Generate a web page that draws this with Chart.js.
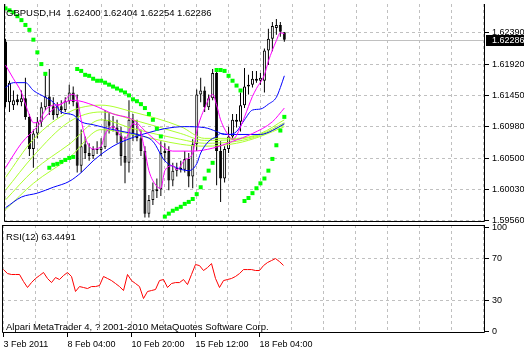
<!DOCTYPE html>
<html>
<head>
<meta charset="utf-8">
<script src="https://cdn.jsdelivr.net/npm/chart.js@4.4.0/dist/chart.umd.min.js"></script>
<style>
  html, body { margin: 0; padding: 0; background: #fff; }
  #wrap { position: relative; width: 524px; height: 351px; overflow: hidden; }
  #priceChart { position: absolute; left: 0; top: 0; }
  #rsiChart { position: absolute; left: 0; top: 223px; }
</style>
</head>
<body>
<div id="wrap">
  <canvas id="priceChart" width="524" height="226"></canvas>
  <canvas id="rsiChart" width="524" height="128"></canvas>
</div>
<script>
// GBPUSD H4 candles, bar index 0..70
const symbol = 'GBPUSD,H4';
const openP = [1.62258,1.61344,1.61300,1.61388,1.61344,1.61403,1.61123,1.60637,1.60872,1.61049,
  1.61270,1.61432,1.61285,1.61152,1.61285,1.61226,1.61359,1.61491,1.61344,1.60386,
  1.60710,1.60578,1.60533,1.60637,1.60622,1.60666,1.61079,1.60990,1.60961,1.60843,
  1.60533,1.60430,1.61079,1.60872,1.60799,1.60607,1.59664,1.59870,1.60003,1.60032,
  1.60578,1.60607,1.60165,1.60312,1.60356,1.60327,1.60489,1.60224,1.60710,1.61462,
  1.61521,1.61270,1.61403,1.61786,1.60607,1.60194,1.60637,1.60828,1.61079,1.61049,
  1.61300,1.61580,1.61609,1.61698,1.61668,1.61668,1.62125,1.62302,1.62464,1.62509,1.62400];
const highP = [1.62302,1.61668,1.61521,1.61462,1.61521,1.61713,1.61167,1.60931,1.61123,1.61344,
  1.61757,1.61845,1.61418,1.61344,1.61374,1.61418,1.61609,1.61580,1.61462,1.60931,
  1.60828,1.60725,1.60681,1.60754,1.60799,1.61226,1.61197,1.61138,1.61079,1.60976,
  1.60828,1.61374,1.61167,1.61079,1.60931,1.60681,1.59944,1.60135,1.60194,1.60754,
  1.60725,1.60681,1.60430,1.60430,1.60460,1.60607,1.60578,1.60784,1.61536,1.61713,
  1.61580,1.61462,1.61845,1.61845,1.60754,1.60681,1.60976,1.61167,1.61167,1.61491,
  1.61860,1.61757,1.61816,1.61816,1.61786,1.62155,1.62450,1.62553,1.62597,1.62553,1.62404];
const lowP = [1.61270,1.61197,1.61226,1.61300,1.61285,1.61079,1.60533,1.60356,1.60799,1.60976,
  1.61226,1.61152,1.61079,1.61108,1.61167,1.61197,1.61315,1.61285,1.60283,1.60283,
  1.60489,1.60460,1.60489,1.60563,1.60533,1.60637,1.60872,1.60902,1.60725,1.60386,
  1.60121,1.60283,1.60754,1.60754,1.60533,1.59605,1.59605,1.59796,1.59900,1.59929,
  1.60460,1.60017,1.60076,1.60224,1.60283,1.60283,1.60062,1.60047,1.60607,1.61344,
  1.61197,1.61226,1.61374,1.60091,1.59841,1.60135,1.60578,1.60784,1.60961,1.60902,
  1.61256,1.61462,1.61565,1.61639,1.61609,1.61491,1.61904,1.62111,1.62361,1.62332,1.62254];
const closeP = [1.61344,1.61639,1.61374,1.61344,1.61403,1.61123,1.60637,1.60872,1.61049,1.61270,
  1.61432,1.61285,1.61152,1.61285,1.61226,1.61359,1.61491,1.61344,1.60386,1.60681,
  1.60578,1.60533,1.60637,1.60622,1.60666,1.61079,1.60990,1.60961,1.60843,1.60533,
  1.60430,1.61079,1.60843,1.60799,1.60607,1.59664,1.59870,1.60017,1.60032,1.60578,
  1.60607,1.60165,1.60312,1.60356,1.60327,1.60489,1.60224,1.60710,1.61462,1.61521,
  1.61270,1.61403,1.61786,1.60607,1.60194,1.60637,1.60828,1.61079,1.61049,1.61300,
  1.61580,1.61609,1.61698,1.61668,1.61713,1.62125,1.62302,1.62494,1.62509,1.62405,1.62286];

// Parabolic SAR, one value per bar
const sar = [1.62759,1.62730,1.62700,1.62641,1.62582,1.62509,1.62435,1.62287,1.62096,1.61919,
  1.61772,1.60356,1.60401,1.60415,1.60445,1.60474,1.60504,1.60519,1.61845,1.61816,
  1.61757,1.61742,1.61698,1.61668,1.61668,1.61639,1.61609,1.61580,1.61550,1.61521,
  1.61491,1.61447,1.61388,1.61359,1.61315,1.61256,1.61167,1.61079,1.60946,1.60828,
  1.59619,1.59664,1.59708,1.59737,1.59767,1.59811,1.59841,1.59885,1.59958,1.60062,
  1.60194,1.60312,1.60430,1.61830,1.61830,1.61816,1.61742,1.61668,1.61595,1.61521,
  1.59855,1.59900,1.59973,1.60047,1.60121,1.60194,1.60312,1.60489,1.60695,1.60917,1.61123];

// RSI(12), one value per bar
const rsi = [59.5,55.7,54.8,54.8,54.8,48.1,42.4,47.1,51.0,53.8,
  56.7,51.0,47.1,51.9,50.0,53.8,56.7,52.9,38.6,43.3,
  42.4,41.4,43.3,43.3,44.3,52.9,51.0,49.0,46.2,43.3,
  39.5,54.8,49.0,46.2,43.3,31.9,38.6,39.5,40.5,49.0,
  50.0,42.4,46.2,47.1,47.1,50.0,45.2,54.8,64.3,63.3,
  58.6,61.4,65.2,51.0,42.4,49.0,50.0,51.0,52.9,55.7,
  59.5,59.5,59.5,58.6,58.6,63.3,66.2,68.1,70.0,67.1,63.4491];

// moving averages, read at the listed bars
const magFastBars = [0,2,4,5,6,7,8,10,12,14,16,17,18,19,20,22,24,25,27,29,30,32,34,35,36,38,39,40,42,43,45,47,48,50,52,53,54,56,57,58,60,62,63,65,66,68,69,70];
const magFast = [1.61904,1.61698,1.61491,1.61315,1.61152,1.61035,1.61035,1.61226,1.61300,1.61315,
  1.61447,1.61462,1.61388,1.61079,1.60813,1.60637,1.60681,1.60858,1.60976,1.60828,
  1.60784,1.61020,1.60872,1.60607,1.60312,1.60076,1.60047,1.60312,1.60386,1.60327,
  1.60474,1.60578,1.60902,1.61256,1.61462,1.61300,1.61079,1.60843,1.60784,1.60843,
  1.61123,1.61432,1.61550,1.61757,1.61963,1.62273,1.62391,1.62376];
const magSlowBars = [0,4,8,10,13,17,22,27,32,36,42,47,52,57,62,67,70];
const magSlow = [1.60356,1.60725,1.60976,1.61123,1.61285,1.61374,1.61300,1.61167,1.61079,1.60857,1.60607,1.60607,1.60651,1.60754,1.60872,1.61049,1.61256];
const blueFastBars = [0,2,5,7,10,12,14,17,19,22,27,32,34,37,40,43,46,48,49,51,53,54,56,58,60,62,64,66,68,69,70];
const blueFast = [1.61565,1.61639,1.61639,1.61521,1.61418,1.61344,1.61197,1.61152,1.61049,1.61005,
  1.60931,1.60872,1.60843,1.60754,1.60460,1.60356,1.60312,1.60415,1.60578,1.60754,
  1.60828,1.60872,1.60857,1.60902,1.61079,1.61226,1.61241,1.61315,1.61418,1.61565,1.61742];
const blueSlowBars = [0,4,8,12,16,19,22,27,32,36,40,45,50,53,55,64,67,70];
const blueSlow = [1.59752,1.59914,1.59973,1.60062,1.60150,1.60283,1.60460,1.60681,1.60813,1.60887,1.60946,1.60976,1.60961,1.60902,1.60858,1.60858,1.60917,1.61020];
const fanBars = [0,7,16,24,32,44,50,58,64,70];
const fan1 = [1.60209,1.60784,1.61197,1.61300,1.61197,1.60976,1.60799,1.60799,1.60872,1.61079];
const fan2 = [1.60017,1.60533,1.61049,1.61197,1.61079,1.60872,1.60769,1.60784,1.60858,1.61035];
const fan3 = [1.59870,1.60312,1.60710,1.61079,1.60946,1.60784,1.60725,1.60754,1.60843,1.61005];
const fan4 = [1.59722,1.60121,1.60504,1.60931,1.60858,1.60710,1.60681,1.60725,1.60828,1.60976];

// axes
const priceTicks = [1.5956, 1.6003, 1.6050, 1.6098, 1.6145, 1.6192, 1.6239];
const priceMin = 1.59538, priceMax = 1.62825;
const rsiTicks = [0, 30, 70, 100];
const rsiLevels = [30, 70];
const timeTickBars = [0, 16, 32, 48, 64];
const timeTickLabels = ['3 Feb 2011', '8 Feb 04:00', '10 Feb 20:00', '15 Feb 12:00', '18 Feb 04:00'];
const gridStep = 8, lastSlot = 120;
const xMin = -0.375, xMax = 120.375;

const gridBars = [];
for (let b = 0; b <= lastSlot; b += gridStep) gridBars.push(b);

const FONT = "'Liberation Sans', Arial, sans-serif";
Chart.defaults.font.family = FONT;
Chart.defaults.font.size = 9;
Chart.defaults.color = '#000';
const gridColor = '#c0c0c0';
const n = closeP.length - 1;

const pts = (xs, ys) => xs.map((x, i) => ({ x: x, y: ys[i] }));
const line = (data, color, order) => ({
  type: 'line', data: data, borderColor: color, borderWidth: 1, pointRadius: 0,
  cubicInterpolationMode: 'monotone', order: order
});

const frame = {
  id: 'frame',
  afterDraw(chart, args, opts) {
    const { ctx, chartArea: a } = chart;
    ctx.save();
    ctx.strokeStyle = '#000';
    ctx.lineWidth = 1;
    ctx.beginPath();
    if (opts.top) { ctx.moveTo(a.left, a.top + 0.5); ctx.lineTo(a.right, a.top + 0.5); }
    ctx.moveTo(a.left + 0.5, a.top);
    ctx.lineTo(a.left + 0.5, a.bottom - 0.5);
    ctx.lineTo(a.right - 0.5, a.bottom - 0.5);
    ctx.lineTo(a.right - 0.5, a.top);
    ctx.stroke();
    ctx.restore();
  }
};

const timeAxis = (labels) => ({
  type: 'linear', min: xMin, max: xMax, offset: false,
  afterBuildTicks: s => { s.ticks = gridBars.map(v => ({ value: v })); },
  afterFit: s => { s.height = labels ? 18 : 3; s.paddingLeft = 0; s.paddingRight = 0; },
  grid: {
    offset: false, color: gridColor, drawTicks: labels, tickLength: 4,
    tickColor: c => (c.tick && timeTickBars.includes(c.tick.value)) ? '#000' : 'rgba(0,0,0,0)'
  },
  border: { display: false, dash: [3, 3] },
  ticks: {
    display: labels, autoSkip: false, maxRotation: 0, minRotation: 0, align: 'start', padding: 2,
    callback: v => { const k = timeTickBars.indexOf(v); return k < 0 ? '' : timeTickLabels[k]; }
  }
});

// price panel
const priceOverlay = {
  id: 'priceOverlay',
  beforeDatasetsDraw(chart) {
    const { ctx, chartArea: a } = chart;
    const y = Math.round(chart.scales.y.getPixelForValue(closeP[n])) + 0.5;
    ctx.save();
    ctx.strokeStyle = gridColor;
    ctx.beginPath(); ctx.moveTo(a.left, y); ctx.lineTo(a.right, y); ctx.stroke();
    ctx.restore();
  },
  afterDraw(chart) {
    const { ctx, chartArea: a } = chart;
    const y = Math.round(chart.scales.y.getPixelForValue(closeP[n]));
    ctx.save();
    ctx.fillStyle = '#000';
    ctx.fillRect(a.right + 1, y - 5, 40, 11);
    ctx.font = '9px ' + FONT;
    ctx.fillStyle = '#fff';
    ctx.textBaseline = 'middle';
    ctx.fillText(closeP[n].toFixed(5), a.right + 7, y + 0.5);
    ctx.fillStyle = '#000';
    ctx.textBaseline = 'alphabetic';
    ctx.font = '9.5px ' + FONT;
    ctx.fillText(symbol + '  ' + openP[n].toFixed(5) + ' ' + highP[n].toFixed(5) + ' ' +
      lowP[n].toFixed(5) + ' ' + closeP[n].toFixed(5), 6, 16);
    ctx.restore();
  }
};

const bars = closeP.map((c, i) => i);
new Chart(document.getElementById('priceChart'), {
  type: 'line',
  data: {
    datasets: [
      { type: 'line', data: pts(bars, sar), showLine: false, pointStyle: 'rect', pointRadius: 2.83,
        pointBackgroundColor: '#00ff00', pointBorderWidth: 0, order: 0 },
      line(pts(magFastBars, magFast), '#ff00ff', 1),
      line(pts(blueFastBars, blueFast), '#0000ff', 1),
      line(pts(magSlowBars, magSlow), '#ff00ff', 1),
      line(pts(blueSlowBars, blueSlow), '#0000ff', 1),
      line(pts(fanBars, fan1), '#adff2f', 2),
      line(pts(fanBars, fan2), '#adff2f', 2),
      line(pts(fanBars, fan3), '#adff2f', 2),
      line(pts(fanBars, fan4), '#adff2f', 2),
      { type: 'bar', data: bars.map(i => ({ x: i, y: [Math.min(openP[i], closeP[i]), Math.max(openP[i], closeP[i])] })),
        barThickness: 3, grouped: false, borderWidth: 1, borderColor: '#000', borderSkipped: false,
        inflateAmount: 0, backgroundColor: c => closeP[c.dataIndex] >= openP[c.dataIndex] ? '#fff' : '#000', order: 3 },
      { type: 'bar', data: bars.map(i => ({ x: i, y: [lowP[i], highP[i]] })),
        barThickness: 1, grouped: false, borderWidth: 0, inflateAmount: 0, backgroundColor: '#000', order: 4 }
    ]
  },
  options: {
    responsive: false, animation: false, devicePixelRatio: 1, events: [],
    layout: { padding: { left: 2, top: 0, right: 0, bottom: 0 } },
    plugins: { legend: { display: false }, tooltip: { enabled: false }, frame: { top: false } },
    scales: {
      x: timeAxis(false),
      y: {
        type: 'linear', position: 'right', min: priceMin, max: priceMax, beginAtZero: false,
        afterBuildTicks: s => { s.ticks = priceTicks.map(v => ({ value: v })); },
        afterFit: s => { s.width = 39; s.paddingTop = 0; s.paddingBottom = 0; },
        grid: { color: gridColor, tickColor: '#000', tickLength: 4 },
        border: { display: false, dash: [3, 3] },
        ticks: { padding: 3, callback: v => v.toFixed(5) }
      }
    }
  },
  plugins: [frame, priceOverlay]
});

// RSI panel
const rsiOverlay = {
  id: 'rsiOverlay',
  afterDraw(chart) {
    const { ctx } = chart;
    ctx.save();
    ctx.fillStyle = '#000';
    ctx.font = '9.5px ' + FONT;
    ctx.fillText('RSI(12) ' + rsi[n].toFixed(4), 6, 17);
    ctx.fillText('Alpari MetaTrader 4, ? 2001-2010 MetaQuotes Software Corp.', 6, 107);
    ctx.restore();
  }
};

new Chart(document.getElementById('rsiChart'), {
  type: 'line',
  data: {
    datasets: [
      { data: pts(bars, rsi), borderColor: '#ff0000', borderWidth: 1, pointRadius: 0, tension: 0 }
    ]
  },
  options: {
    responsive: false, animation: false, devicePixelRatio: 1, events: [],
    layout: { padding: { left: 2, top: 2, right: 0, bottom: 0 } },
    plugins: { legend: { display: false }, tooltip: { enabled: false }, frame: { top: true } },
    scales: {
      x: timeAxis(true),
      y: {
        type: 'linear', position: 'right', min: -1, max: 102,
        afterBuildTicks: s => { s.ticks = rsiTicks.map(v => ({ value: v })); },
        afterFit: s => { s.width = 39; s.paddingTop = 0; s.paddingBottom = 0; },
        grid: {
          color: c => (c.tick && rsiLevels.includes(c.tick.value)) ? gridColor : 'rgba(0,0,0,0)',
          tickColor: '#000', tickLength: 4
        },
        border: { display: false, dash: [3, 3] },
        ticks: { padding: 3, callback: v => String(v) }
      }
    }
  },
  plugins: [frame, rsiOverlay]
});
</script>
</body>
</html>
